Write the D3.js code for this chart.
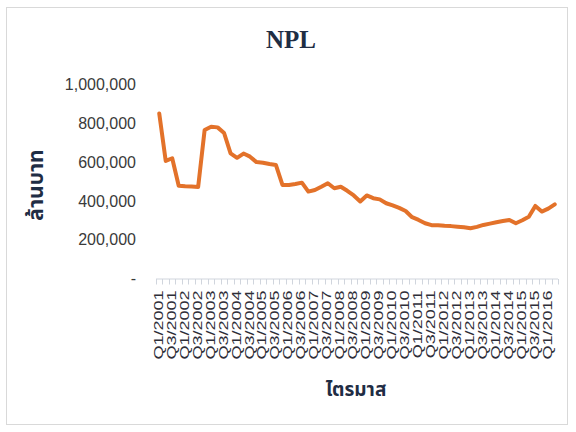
<!DOCTYPE html>
<html>
<head>
<meta charset="utf-8">
<script src="https://cdn.jsdelivr.net/npm/d3@7"></script>
<style>
  html, body { margin: 0; padding: 0; background: #fff; }
  svg { display: block; }
</style>
</head>
<body>
<svg id="chart" width="576" height="432"></svg>
<script>
// Quarterly NPL outstanding (million baht), Q1/2001 – Q2/2016
const quarters = [
  "Q1/2001","Q2/2001","Q3/2001","Q4/2001",
  "Q1/2002","Q2/2002","Q3/2002","Q4/2002",
  "Q1/2003","Q2/2003","Q3/2003","Q4/2003",
  "Q1/2004","Q2/2004","Q3/2004","Q4/2004",
  "Q1/2005","Q2/2005","Q3/2005","Q4/2005",
  "Q1/2006","Q2/2006","Q3/2006","Q4/2006",
  "Q1/2007","Q2/2007","Q3/2007","Q4/2007",
  "Q1/2008","Q2/2008","Q3/2008","Q4/2008",
  "Q1/2009","Q2/2009","Q3/2009","Q4/2009",
  "Q1/2010","Q2/2010","Q3/2010","Q4/2010",
  "Q1/2011","Q2/2011","Q3/2011","Q4/2011",
  "Q1/2012","Q2/2012","Q3/2012","Q4/2012",
  "Q1/2013","Q2/2013","Q3/2013","Q4/2013",
  "Q1/2014","Q2/2014","Q3/2014","Q4/2014",
  "Q1/2015","Q2/2015","Q3/2015","Q4/2015",
  "Q1/2016","Q2/2016"
];
const npl = [
  850000, 606000, 620000, 478000,
  475000, 474000, 472000, 765000,
  782000, 779000, 750000, 645000,
  622000, 644000, 628000, 600000,
  597000, 590000, 585000, 482000,
  482000, 487000, 494000, 448000,
  456000, 473000, 491000, 465000,
  473000, 452000, 428000, 397000,
  428000, 414000, 408000, 388000,
  377000, 364000, 348000, 316000,
  302000, 285000, 275000, 275000,
  272000, 270000, 267000, 264000,
  259000, 266000, 276000, 283000,
  290000, 296000, 302000, 285000,
  300000, 318000, 374000, 345000,
  360000, 382000
];
const yTicks = [0, 200000, 400000, 600000, 800000, 1000000];
const titleText = "NPL";
const yTitle = "ล้านบาท";
const xTitle = "ไตรมาส";

const svg = d3.select("#chart");
const plot = { left: 156, right: 558, top: 84.5, bottom: 278.5 };
const textColor = "#3a3a3a";
const thaiFont = "'Noto Sans Thai', 'Noto Sans Thai UI', Leelawadee, Tahoma, 'DejaVu Sans', sans-serif";

// chart frame
svg.append("rect")
  .attr("x", 6.5).attr("y", 7.5)
  .attr("width", 561).attr("height", 417)
  .attr("fill", "#fff")
  .attr("stroke", "#d9d9d9").attr("stroke-width", 1);

const x = d3.scaleBand().domain(quarters).range([plot.left, plot.right]).padding(0);
const y = d3.scaleLinear().domain([0, 1000000]).range([plot.bottom, plot.top]);
const cx = d => x(d) + x.bandwidth() / 2;

// title
svg.append("text")
  .attr("x", 291).attr("y", 48)
  .attr("text-anchor", "middle")
  .attr("font-family", "'Liberation Serif', 'Times New Roman', serif")
  .attr("font-weight", "bold")
  .attr("font-size", 25)
  .attr("fill", "#1f2d44")
  .text(titleText);

// y axis labels
const yAxis = d3.axisLeft(y)
  .tickValues(yTicks)
  .tickSize(0)
  .tickPadding(20)
  .tickFormat(d => d === 0 ? "-" : d3.format(",")(d));
const gy = svg.append("g").attr("transform", `translate(${plot.left},0)`).call(yAxis);
gy.select(".domain").remove();
gy.selectAll("text")
  .attr("font-family", "'Liberation Sans', Arial, sans-serif")
  .attr("font-size", 16)
  .attr("fill", textColor);

// x axis line and category tick marks
const gx = svg.append("g");
gx.append("line")
  .attr("x1", plot.left).attr("x2", plot.right)
  .attr("y1", plot.bottom + 0.5).attr("y2", plot.bottom + 0.5)
  .attr("stroke", "#d0d5dd").attr("stroke-width", 1);
const boundaries = quarters.map(q => x(q)).concat([plot.right]);
gx.selectAll("line.tick")
  .data(boundaries)
  .join("line")
  .attr("class", "tick")
  .attr("x1", d => Math.round(d) + 0.5).attr("x2", d => Math.round(d) + 0.5)
  .attr("y1", plot.bottom + 0.5).attr("y2", plot.bottom + 6)
  .attr("stroke", "#d0d5dd").attr("stroke-width", 1);

// x tick labels, every other quarter, rotated
const labelled = quarters.filter((q, i) => i % 2 === 0);
gx.selectAll("text.xl")
  .data(labelled)
  .join("text")
  .attr("class", "xl")
  .attr("transform", d => `translate(${cx(d) + 3.5},${plot.bottom + 12}) rotate(-90) scale(1,0.66)`)
  .attr("text-anchor", "end")
  .attr("font-family", "'Liberation Sans', Arial, sans-serif")
  .attr("font-size", 18)
  .attr("fill", "#2e2e38")
  .text(d => d);

// NPL line
const line = d3.line()
  .x((d, i) => cx(quarters[i]))
  .y(d => y(d))
  .curve(d3.curveLinear);
svg.append("path")
  .datum(npl)
  .attr("d", line)
  .attr("fill", "none")
  .attr("stroke", "#e3722a")
  .attr("stroke-width", 4)
  .attr("stroke-linejoin", "round")
  .attr("stroke-linecap", "round");

// axis titles
svg.append("text")
  .attr("transform", `translate(43,185) rotate(-90)`)
  .attr("text-anchor", "middle")
  .attr("font-family", thaiFont)
  .attr("font-weight", "bold")
  .attr("font-size", 21)
  .attr("fill", "#1f2d44")
  .text(yTitle);

svg.append("text")
  .attr("x", 356).attr("y", 396)
  .attr("text-anchor", "middle")
  .attr("font-family", thaiFont)
  .attr("font-weight", "bold")
  .attr("font-size", 19)
  .attr("fill", "#1f2d44")
  .text(xTitle);
</script>
</body>
</html>
